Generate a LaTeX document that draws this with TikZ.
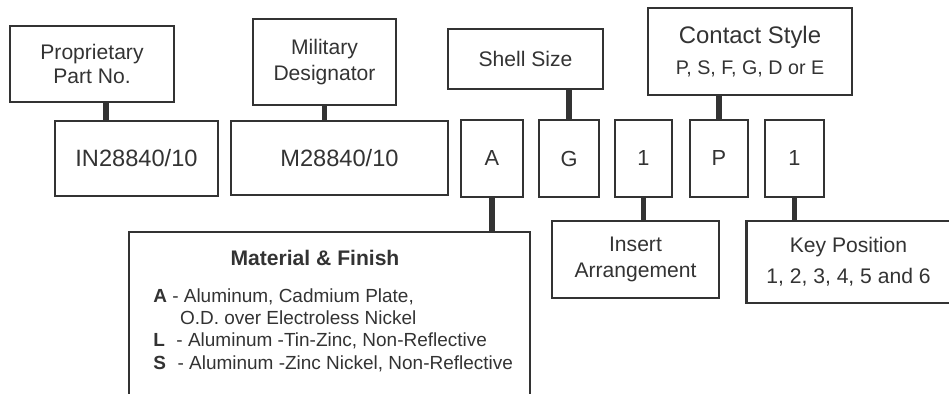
\documentclass[tikz,border=0pt]{standalone}
\usepackage{fontspec}
\setmainfont{Liberation Sans}
\usetikzlibrary{positioning}
\definecolor{partInk}{HTML}{333333}

\begin{document}
\begin{tikzpicture}[x=0.025cm, y=-0.025cm,
    fieldBox/.style={draw=partInk, line width=2.1pt, rectangle, inner sep=0pt, align=center, text=partInk, font=\fontsize{15}{19}\selectfont},
    codeBox/.style={fieldBox, font=\fontsize{16.8}{20}\selectfont},
    charBox/.style={fieldBox, font=\fontsize{15.5}{19}\selectfont, minimum height=77*0.025cm},
    matText/.style={inner sep=0pt, text=partInk, font=\fontsize{13.5}{15.9}\selectfont},
    link/.style={draw=partInk, line width=3.6pt},
]
\useasboundingbox (0,0) rectangle (949,394);
\clip (0,0) rectangle (949,394);
% upper labels
\node[fieldBox, minimum width=164*0.025cm, minimum height=76*0.025cm] (propLabel) at (92, 64) {Proprietary\\[-2.5pt]Part No.};
\node[fieldBox, minimum width=143*0.025cm, minimum height=86*0.025cm] (milLabel) at (324.5, 62) {Military\\Designator};
\node[fieldBox, minimum width=155*0.025cm, minimum height=60*0.025cm] (shellLabel) at (525.5, 59) {Shell Size};
\node[fieldBox, minimum width=204*0.025cm, minimum height=87*0.025cm] (contactLabel) at (750, 51.5) {{\fontsize{17}{20}\selectfont Contact Style}\\[3pt]{\fontsize{14}{17}\selectfont P, S, F, G, D or E}};
% part number row
\node[codeBox, minimum width=163*0.025cm, minimum height=75*0.025cm] (propCode) at (136.5, 158.5) {IN28840/10};
\node[codeBox, minimum width=217*0.025cm, minimum height=74*0.025cm] (milCode) at (339.5, 158) {M28840/10};
\node[charBox, minimum width=62*0.025cm] (matChar) at (492, 158.5) {A};
\node[charBox, minimum width=60*0.025cm] (shellChar) at (569, 158.5) {G};
\node[charBox, minimum width=57*0.025cm] (insertChar) at (643.5, 158.5) {1};
\node[charBox, minimum width=58*0.025cm] (contactChar) at (719, 158.5) {P};
\node[charBox, minimum width=59*0.025cm] (keyChar) at (794.5, 158.5) {1};
% lower labels
\node[fieldBox, minimum width=401*0.025cm, minimum height=188*0.025cm] (matLabel) at (329.5, 326) {};
\node[fieldBox, minimum width=167*0.025cm, minimum height=77*0.025cm] (insertLabel) at (635.5, 259.5) {Insert\\[-1pt]Arrangement};
\node[fieldBox, minimum width=204*0.025cm, minimum height=82*0.025cm] (keyLabel) at (848.5, 262) {Key Position\\[3pt]1, 2, 3, 4, 5 and 6};
\node[matText, font=\fontsize{15}{18}\selectfont\bfseries, anchor=base] (matTitle) at (315, 265) {Material \& Finish};
\node[matText, align=left, anchor=north west] (matList) at (153, 288) {%
    \textbf{A} - Aluminum, Cadmium Plate,\\
    \hspace*{19pt}O.D. over Electroless Nickel\\
    \textbf{L}\,\, - Aluminum -Tin-Zinc, Non-Reflective\\
    \textbf{S}\,\, - Aluminum -Zinc Nickel, Non-Reflective};
% connectors
\draw[link] ([xshift=14*0.025cm]propLabel.south) -- ([xshift=14*0.025cm]propLabel.south |- propCode.north);
\draw[link] (milLabel.south) -- (milLabel.south |- milCode.north);
\draw[link] (shellLabel.south -| shellChar.north) -- (shellChar.north);
\draw[link] (contactLabel.south -| contactChar.north) -- (contactChar.north);
\draw[link] (matChar.south) -- (matChar.south |- matLabel.north);
\draw[link] (insertChar.south) -- (insertChar.south |- insertLabel.north);
\draw[link] (keyChar.south) -- (keyChar.south |- keyLabel.north);
\end{tikzpicture}
\end{document}
